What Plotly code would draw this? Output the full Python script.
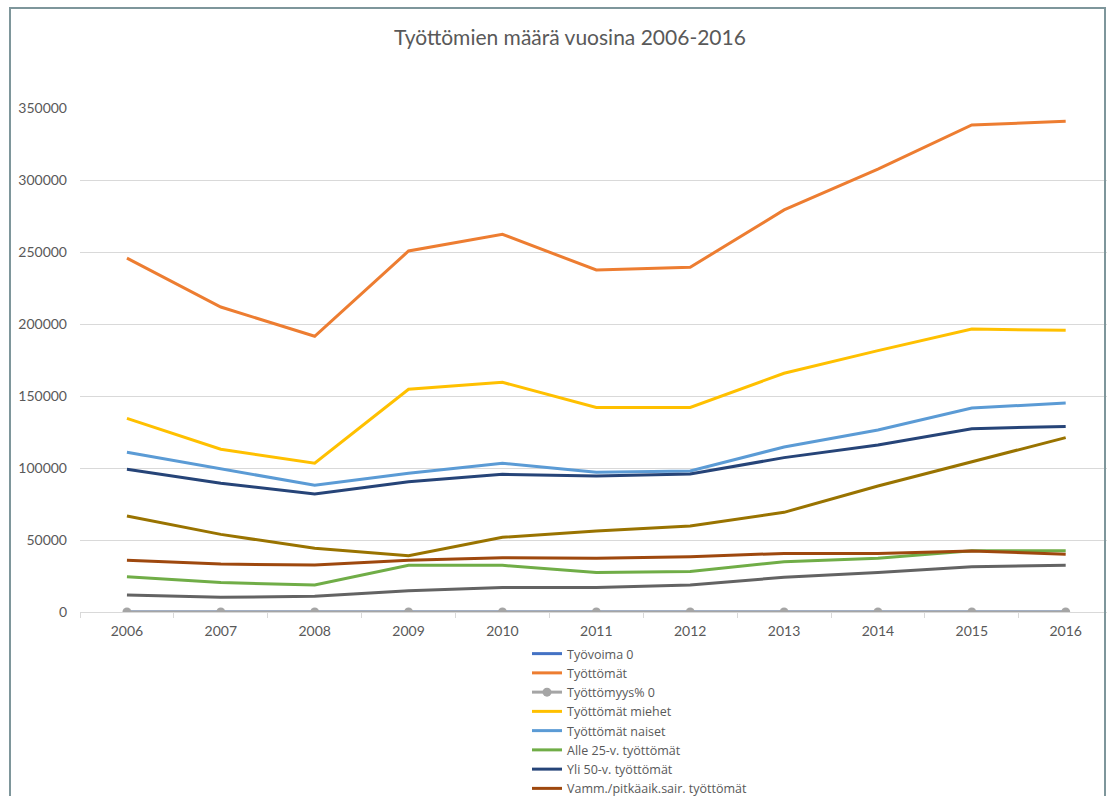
import plotly.graph_objects as go

years = ["2006", "2007", "2008", "2009", "2010", "2011", "2012", "2013", "2014", "2015", "2016"]

tyovoima = [0, 0, 0, 0, 0, 0, 0, 0, 0, 0, 0]
tyottomat = [245800, 211800, 191500, 250700, 262300, 237500, 239400, 279200, 307600, 338200, 340800]
tyottomyys_pct = [0, 0, 0, 0, 0, 0, 0, 0, 0, 0, 0]
miehet = [134500, 113000, 103300, 154700, 159500, 142100, 142100, 165800, 181500, 196500, 195600]
naiset = [110900, 99300, 88000, 96300, 103300, 97000, 97900, 114600, 126400, 141700, 145100]
alle25 = [24500, 20400, 18800, 32400, 32400, 27500, 28200, 34900, 37300, 42600, 42600]
yli50 = [99100, 89400, 81900, 90500, 95600, 94400, 95800, 107200, 116000, 127300, 128900]
vamm = [35900, 33300, 32600, 35900, 37700, 37300, 38400, 40700, 40700, 42400, 40100]
pitkaaik = [66700, 53900, 44200, 39100, 51900, 56300, 59700, 69200, 87500, 104400, 121100]
ulkomaal = [11800, 10200, 10900, 14800, 17100, 17100, 18800, 24100, 27500, 31500, 32400]

series = [
    ("Työvoima 0", tyovoima, "#4472C4", False, True),
    ("Työttömät", tyottomat, "#ED7D31", False, True),
    ("Työttömyys% 0", tyottomyys_pct, "#A5A5A5", True, True),
    ("Työttömät miehet", miehet, "#FFC000", False, True),
    ("Työttömät naiset", naiset, "#5B9BD5", False, True),
    ("Alle 25-v. työttömät", alle25, "#70AD47", False, True),
    ("Yli 50-v. työttömät", yli50, "#264478", False, True),
    ("Vamm./pitkäaik.sair. työttömät", vamm, "#9E480E", False, True),
    ("Pitkäaikaistyöttömät", pitkaaik, "#997300", False, False),
    ("Ulkomaalaiset työttömät", ulkomaal, "#636363", False, False),
]

FONT = "Lato"
TXT = "#595959"

fig = go.Figure()
for name, vals, color, markers, in_legend in series:
    fig.add_trace(go.Scatter(
        x=years, y=vals, name=name,
        mode="lines+markers" if markers else "lines",
        line=dict(color=color, width=3),
        marker=dict(size=9, color=color),
        showlegend=in_legend,
    ))

W, H = 1109, 796
ml, mr, mt, mb = 80, 2, 108, 184
pw = W - ml - mr
ph = H - mt - mb


def px_x(p):
    return (p - ml) / pw


def px_y(p):
    return (H - mb - p) / ph


fig.update_layout(
    width=W, height=H,
    margin=dict(l=ml, r=mr, t=mt, b=mb, autoexpand=False),
    paper_bgcolor="white", plot_bgcolor="white",
    font=dict(family=FONT, color=TXT, size=14),
    title=dict(text="Työttömien määrä vuosina 2006-2016",
               x=570 / W, xanchor="center", y=1 - 38 / H, yanchor="middle",
               font=dict(family=FONT, size=21, color=TXT)),
    xaxis=dict(type="category", range=[-0.5, 10.44],
               showgrid=False, showline=True, linecolor="#D9D9D9", linewidth=1,
               ticks="outside", tickson="boundaries", ticklen=5, tickcolor="#D9D9D9",
               ticklabelstandoff=6,
               tickfont=dict(size=14, color=TXT), zeroline=False, fixedrange=True),
    yaxis=dict(range=[0, 350000], dtick=50000, tickformat="d",
               showgrid=True, gridcolor="#D9D9D9", gridwidth=1,
               zeroline=False, showline=False, ticks="", ticklabelstandoff=12,
               tickfont=dict(size=14, color=TXT), fixedrange=True),
    legend=dict(xref="container", yref="container",
                x=527 / W, xanchor="left", y=1 - 639 / H, yanchor="top",
                font=dict(family="Open Sans", size=12.5, color=TXT),
                bgcolor="rgba(0,0,0,0)", tracegroupgap=0, itemwidth=30),
    shapes=[dict(type="rect", xref="paper", yref="paper",
                 x0=px_x(10), x1=px_x(1105), y0=px_y(830), y1=px_y(8),
                 line=dict(color="#7E969B", width=2), layer="above")],
)

fig.write_html("out.html")
